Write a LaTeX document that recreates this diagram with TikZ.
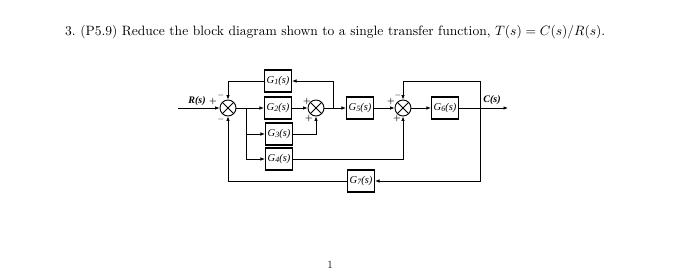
\documentclass[tikz,border=0pt]{standalone}
\usepackage{graphicx}
\usepackage{fontspec}
\newfontfamily\tms{Liberation Serif}
\usetikzlibrary{arrows.meta}
\newcommand\gsub[1]{\raisebox{-0.3ex}{\fontsize{8}{8}\selectfont #1}}
\begin{document}
\begin{tikzpicture}[x=1pt,y=-1pt,
  blk/.style={draw,line width=1.1pt,minimum width=27pt,minimum height=22pt,inner sep=0pt,
    font=\tms\itshape\fontsize{10.5}{11}\selectfont},
  sumj/.style={draw,circle,line width=0.9pt,minimum size=16pt,inner sep=0pt,
    path picture={\draw[line width=0.9pt] (path picture bounding box.south west)--(path picture bounding box.north east)
      (path picture bounding box.north west)--(path picture bounding box.south east);}},
  arr/.style={-{Latex[length=4.5pt,width=3.5pt]},line width=0.7pt},
  sgn/.style={font=\fontsize{8}{8}\selectfont\bfseries,inner sep=0pt},
  lbl/.style={font=\tms\itshape\bfseries\fontsize{10}{10}\selectfont,inner sep=0pt}]
\useasboundingbox (0,0) rectangle (700,274);
% title
\node[anchor=base west,inner sep=0pt] (title) at (65,35)
  {\resizebox{540pt}{!}{3.\ (P5.9) Reduce the block diagram shown to a single transfer function, $T(s)=C(s)/R(s)$.}};
\node[inner sep=0pt,font=\fontsize{11}{11}\selectfont] (pg) at (330,265) {1};
% junctions and blocks
\node[sumj] (s1) at (228,108) {};
\node[sumj] (s2) at (316,108) {};
\node[sumj] (s3) at (403,108) {};
\node[blk] (g1) at (278,81) {G\gsub{1}(s)};
\node[blk] (g2) at (278,108) {G\gsub{2}(s)};
\node[blk] (g3) at (279,134) {G\gsub{3}(s)};
\node[blk] (g4) at (279,159) {G\gsub{4}(s)};
\node[blk] (g5) at (360,108) {G\gsub{5}(s)};
\node[blk] (g6) at (445,108) {G\gsub{6}(s)};
\node[blk] (g7) at (361,181) {G\gsub{7}(s)};
% coordinates
\coordinate (in) at (178,108);
\coordinate (out) at (508,108);
\coordinate (b3) at (246,108);
\coordinate (b1) at (333,108);
\coordinate (bo) at (480,108);
\coordinate (t3) at (480,81);
% labels
\node[lbl] (rl) at (197,101) {R(s)};
\node[lbl] (cl) at (492,100) {C(s)};
% signs
\node[sgn] (p1) at (213,101) {+};
\node[sgn] (m1a) at (221,95) {$-$};
\node[sgn] (m1b) at (221,119) {$-$};
\node[sgn] (p2a) at (307,101) {+};
\node[sgn] (p2b) at (309,118) {+};
\node[sgn] (p3a) at (391,101) {+};
\node[sgn] (m3) at (398,95) {$-$};
\node[sgn] (p3b) at (397,118) {+};
% connectors
\draw[arr] (in) -- (s1);
\draw[arr] (s1) -- (g2);
\draw[arr] (g2) -- (s2);
\draw[arr] (s2) -- (g5);
\draw[arr] (g5) -- (s3);
\draw[arr] (s3) -- (g6);
\draw[arr] (g6) -- (out);
\draw[arr] (b1) |- (g1);
\draw[arr] (g1) -| (s1);
\draw[arr] (b3) |- (g3);
\draw[arr] (b3) |- (g4);
\draw[arr] (g3) -| (s2);
\draw[arr] (g4) -| (s3);
\draw[arr] (bo) |- (g7);
\draw[arr] (g7) -| (s1);
\draw[arr] (bo) -- (t3) -| (s3);
\end{tikzpicture}
\end{document}
